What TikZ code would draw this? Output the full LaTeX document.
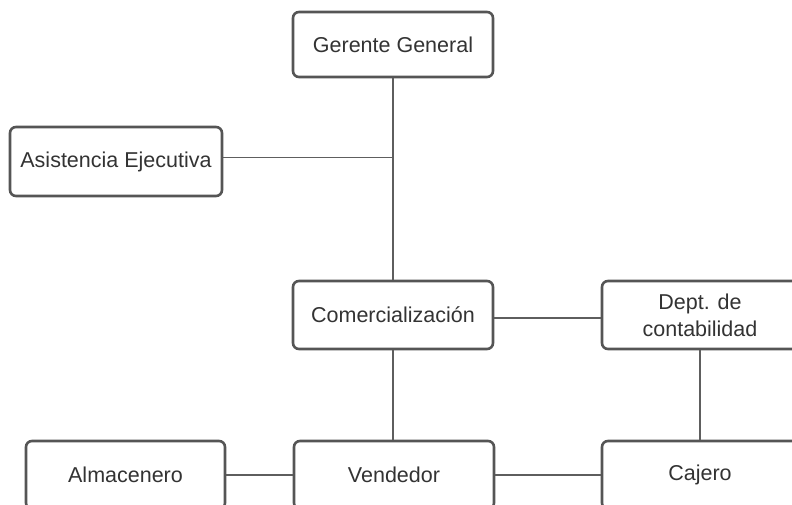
\documentclass[tikz,border=0pt]{standalone}
\usepackage{fontspec}
\setmainfont{Liberation Sans}
\begin{document}
\begin{tikzpicture}[x=1pt,y=1pt,
  box/.style={draw=boxgray, line width=2.6pt, rounded corners=6pt, fill=white,
    text=textgray, inner sep=0pt, align=center,
    font=\fontsize{21.5}{27}\selectfont},
  link/.style={draw=linegray, line width=1.6pt}]
\definecolor{boxgray}{HTML}{555555}
\definecolor{linegray}{HTML}{5E5E5E}
\definecolor{textgray}{HTML}{333333}
\useasboundingbox (0,0) rectangle (792,504);
% organisation chart boxes (y measured upward from the bottom edge)
\node[box, minimum width=200pt, minimum height=65pt] (gg) at (393,459.5) {Gerente General};
\node[box, minimum width=212pt, minimum height=69pt] (ae) at (116,342.5) {Asistencia Ejecutiva};
\node[box, minimum width=200pt, minimum height=68pt] (co) at (393,189) {Comercialización};
\node[box, minimum width=196pt, minimum height=68pt] (dc) at (700,189) {Dept. de\\contabilidad};
\node[box, minimum width=199pt, minimum height=68pt] (al) at (125.5,29) {Almacenero};
\node[box, minimum width=200pt, minimum height=68pt] (ve) at (394,29) {Vendedor};
\node[box, minimum width=196pt, minimum height=68pt] (ca) at (700,29) {Cajero};
% connectors
\draw[link] (gg.south) -- (co.north);
\draw[link] ([yshift=4pt]ae.east) -- ([yshift=4pt]ae.east -| gg.south);
\draw[link] ([yshift=-3pt]co.east) -- ([yshift=-3pt]dc.west);
\draw[link] (co.south) -- (co.south |- ve.north);
\draw[link] (dc.south) -- (dc.south |- ca.north);
\draw[link] (al.east) -- (ve.west);
\draw[link] (ve.east) -- (ca.west);
\end{tikzpicture}
\end{document}
